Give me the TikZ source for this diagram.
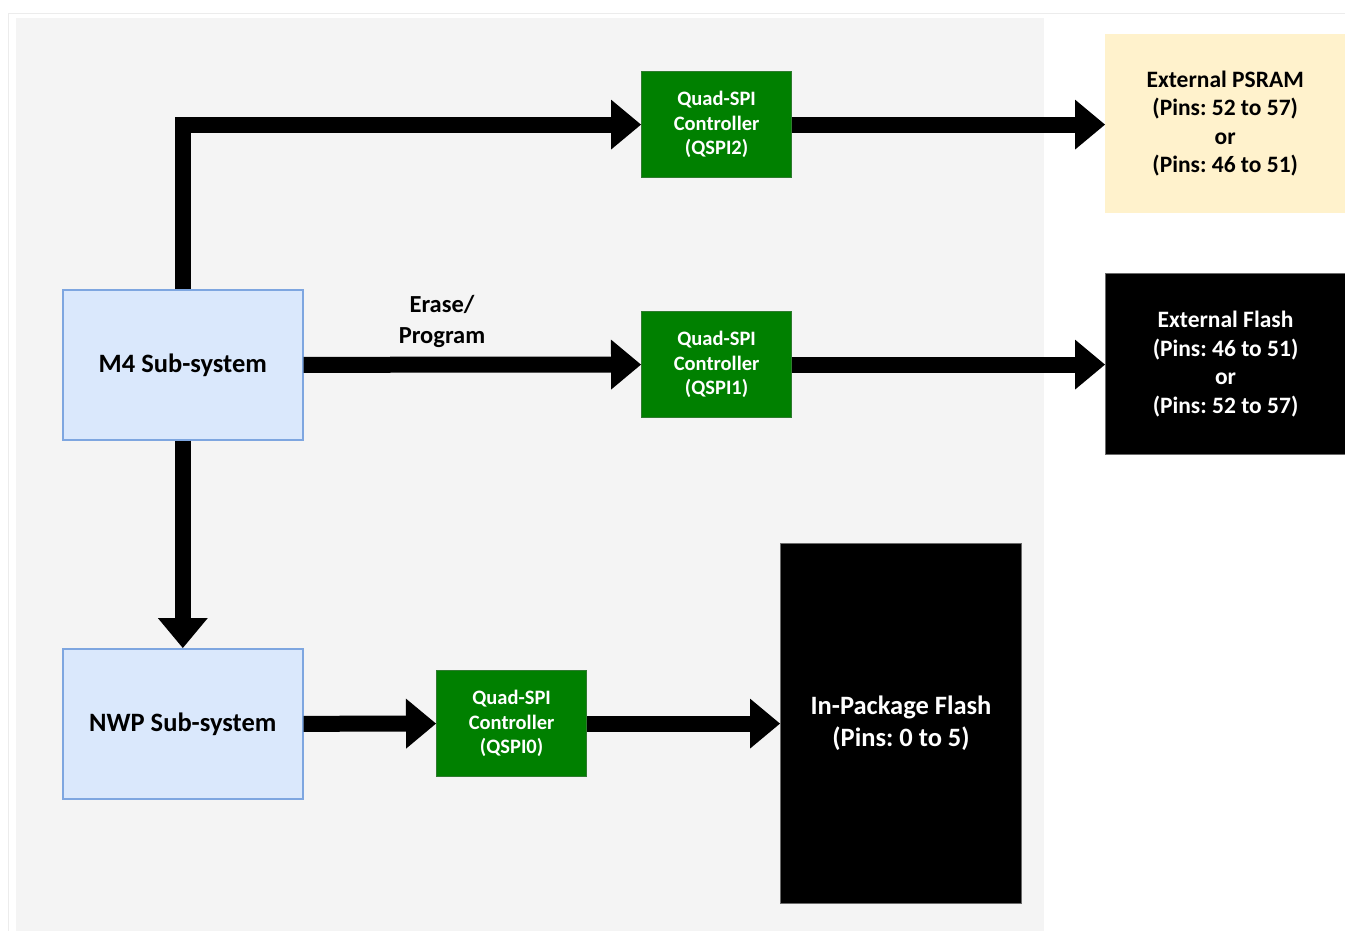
\documentclass[tikz,border=0pt]{standalone}
\usepackage{fontspec}
\setmainfont{Carlito}
\frenchspacing
\usetikzlibrary{arrows.meta}
\definecolor{panel}{HTML}{F4F4F4}
\definecolor{frameline}{HTML}{ECECEC}
\definecolor{subfill}{HTML}{DAE8FC}
\definecolor{subdraw}{HTML}{7EA6E0}
\definecolor{qspigreen}{HTML}{008000}
\definecolor{qspidraw}{HTML}{2F7A2F}
\definecolor{psramfill}{HTML}{FFF2CC}
\definecolor{flashdraw}{HTML}{6A6A6A}
\begin{document}
\begin{tikzpicture}[x=1pt,y=-1pt,
  box/.style={rectangle, inner sep=0pt, anchor=north west, align=center},
  % taller first line pushes a multi-line label slightly down
  lowered/.style={execute at begin node={\rule{0pt}{#1}}},
  subsys/.style={box, fill=subfill, draw=subdraw, line width=1.6pt,
    minimum width=240pt, minimum height=150pt,
    font=\bfseries\fontsize{26.5}{31}\selectfont},
  qspi/.style={box, fill=qspigreen, draw=qspidraw, line width=1.2pt,
    minimum width=150pt, minimum height=106pt, text=white,
    font=\bfseries\fontsize{20.5}{24.5}\selectfont},
  extmem/.style={box, minimum width=240pt, lowered=23pt,
    font=\bfseries\fontsize{23.5}{28.5}\selectfont},
  flashbox/.style={box, fill=black, draw=flashdraw, line width=1pt, text=white},
  bus/.style={line width=16pt, line join=miter,
    -{Triangle[length=30pt,width=50pt,line width=0pt]}},
]
\useasboundingbox (0,0) rectangle (1345,931);
\clip (0,0) rectangle (1345,931);

% page frame and shaded chip area
\draw[frameline, line width=1.5pt] (8.5,13.5) rectangle (1400,1000);
\fill[panel] (16,18) rectangle (1044,931);

% subsystems
\node[subsys] (m4)  at (62,289) {M4 Sub-system};
\node[subsys] (nwp) at (62,648) {NWP Sub-system};

% Quad-SPI controllers
\node[qspi] (q2) at (641,71)  {Quad-SPI\\Controller\\(QSPI2)};
\node[qspi] (q1) at (641,311) {Quad-SPI\\Controller\\(QSPI1)};
\node[qspi] (q0) at (436,670) {Quad-SPI\\Controller\\(QSPI0)};

% memories
\node[extmem, fill=psramfill, minimum height=179pt] (psram) at (1105,34)
  {External PSRAM\\(Pins: 52 to 57)\\or\\(Pins: 46 to 51)};
\node[extmem, flashbox, minimum height=181pt] (flash) at (1105,273)
  {External Flash\\(Pins: 46 to 51)\\or\\(Pins: 52 to 57)};
\node[flashbox, minimum width=241pt, minimum height=360pt, lowered=26pt,
  font=\bfseries\fontsize{26.5}{32}\selectfont] (inpkg) at (780,543)
  {In-Package Flash\\(Pins: 0 to 5)};

% bus connections
\draw[bus] (m4.north) |- (q2.west);
\draw[bus] (q2.east) -- (q2.east -| psram.west);
\draw[bus] (m4.east) -- (q1.west);
\draw[bus] (q1.east) -- (q1.east -| flash.west);
\draw[bus] (m4.south) -- (nwp.north);
\draw[bus] (nwp.east) -- (q0.west);
\draw[bus] (q0.east) -- (q0.east -| inpkg.west);

\node[align=center, inner sep=0pt, font=\bfseries\fontsize{24.5}{31}\selectfont]
  (ep) at (442,321) {Erase/\\Program};
\end{tikzpicture}
\end{document}
